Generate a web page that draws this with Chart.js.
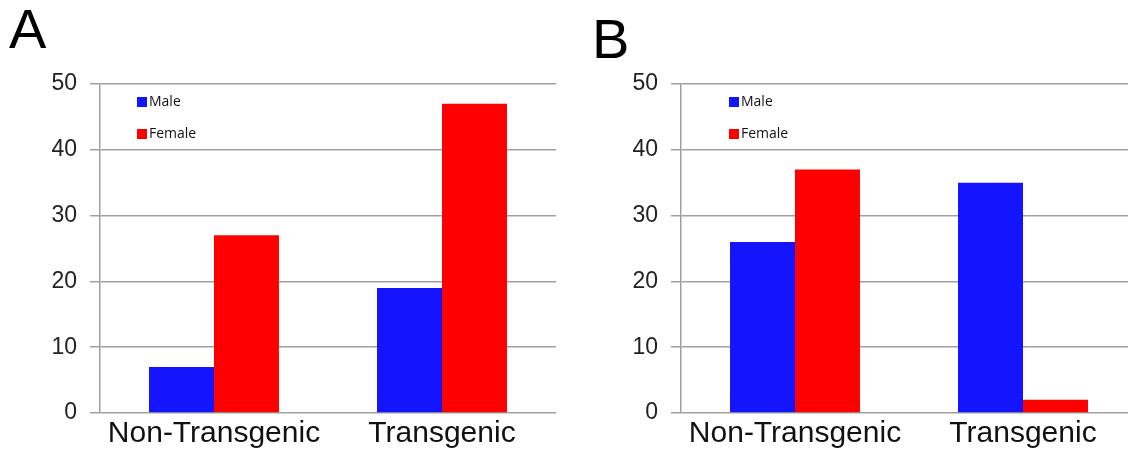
<!DOCTYPE html>
<html>
<head>
<meta charset="utf-8">
<script src="https://cdn.jsdelivr.net/npm/chart.js@4.4.1/dist/chart.umd.min.js"></script>
<style>
  html, body { margin: 0; padding: 0; background: #fff; overflow: hidden; width: 1128px; height: 451px; }
  .panel { position: absolute; top: 0; }
  .letter { position: absolute; font-family: "Liberation Sans", Arial, sans-serif; font-size: 56px; color: #000; line-height: 1; }
</style>
</head>
<body>
<div class="letter" style="left:9px; top:1px;">A</div>
<div class="letter" style="left:592px; top:11px;">B</div>
<div class="panel" style="left:0px; width:564px; height:451px;"><canvas id="chartA"></canvas></div>
<div class="panel" style="left:564px; width:581px; height:451px;"><canvas id="chartB"></canvas></div>
<script>
// Groups along the x axis
const categories = ["Non-Transgenic", "Transgenic"];
const seriesNames = ["Male", "Female"];
const seriesColors = ["#1414ff", "#ff0000"];

// Panel A counts
const maleA = [7, 19];
const femaleA = [27, 47];

// Panel B counts
const maleB = [26, 35];
const femaleB = [37, 2];

// Y axis range / step
const yMin = 0;
const yMax = 50;
const yStep = 10;

// Small legend drawn inside the plot area, stacked vertically
const insideLegend = {
  id: 'insideLegend',
  afterDraw(chart, args, opts) {
    const ctx = chart.ctx;
    const area = chart.chartArea;
    ctx.save();
    ctx.font = '14px "Open Sans", "Liberation Sans", sans-serif';
    ctx.textBaseline = 'middle';
    chart.data.datasets.forEach((ds, i) => {
      const x = area.left + opts.offsetX;
      const y = area.top + opts.offsetY + i * opts.rowGap;
      ctx.fillStyle = ds.backgroundColor;
      ctx.fillRect(x, y - 5, 10, 10);
      ctx.fillStyle = '#111';
      ctx.fillText(ds.label, x + 12, y);
    });
    ctx.restore();
  }
};

function makeChart(id, male, female, pad, legendOffsetX) {
  return new Chart(document.getElementById(id), {
    type: 'bar',
    data: {
      labels: categories,
      datasets: [
        { label: seriesNames[0], data: male, backgroundColor: seriesColors[0] },
        { label: seriesNames[1], data: female, backgroundColor: seriesColors[1] }
      ]
    },
    options: {
      responsive: true,
      maintainAspectRatio: false,
      animation: false,
      devicePixelRatio: 1,
      layout: { padding: pad },
      datasets: { bar: { categoryPercentage: 0.57, barPercentage: 1.0 } },
      plugins: {
        legend: { display: false },
        tooltip: { enabled: false },
        insideLegend: { offsetX: legendOffsetX, offsetY: 18, rowGap: 32 }
      },
      scales: {
        x: {
          grid: { display: false, drawTicks: false },
          border: { display: false },
          ticks: {
            color: '#111',
            padding: 3,
            font: { family: '"Liberation Sans", Arial, sans-serif', size: 30 }
          },
          afterFit(scale) { scale.height = 38; }
        },
        y: {
          min: yMin,
          max: yMax,
          grid: { color: '#a0a0a0', lineWidth: 1.5, tickLength: 10, drawTicks: true },
          border: { display: true, color: '#a0a0a0', width: 1.5 },
          ticks: {
            stepSize: yStep,
            color: '#222',
            padding: 13,
            font: { family: '"Liberation Sans", Arial, sans-serif', size: 23 }
          },
          afterFit(scale) { scale.width = pad.yWidth; }
        }
      }
    },
    plugins: [insideLegend]
  });
}

makeChart('chartA', maleA, femaleA, { left: 0, right: 8, top: 84, bottom: 0, yWidth: 100 }, 37);
makeChart('chartB', maleB, femaleB, { left: 0, right: 8, top: 84, bottom: 0, yWidth: 117 }, 48);
</script>
</body>
</html>
